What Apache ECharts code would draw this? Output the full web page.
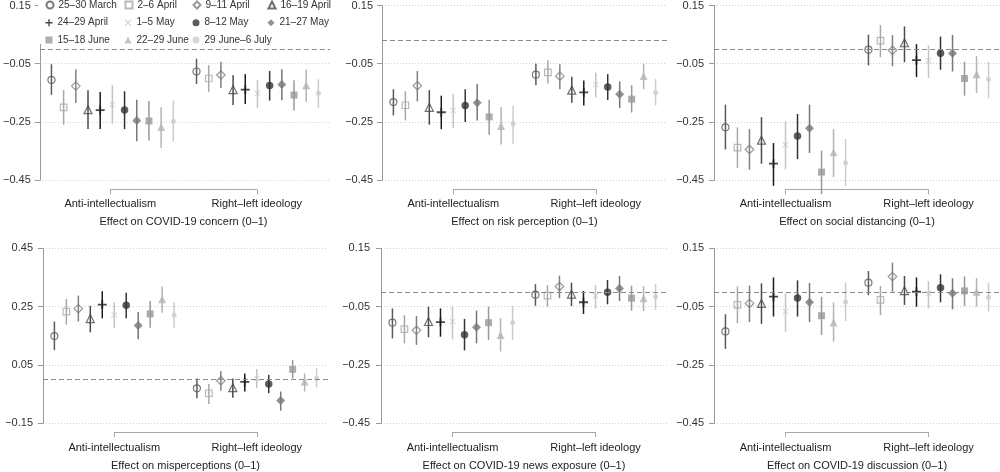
<!DOCTYPE html>
<html><head><meta charset="utf-8">
<script src="https://cdn.jsdelivr.net/npm/echarts@6/dist/echarts.min.js"></script>
<style>html,body{margin:0;padding:0;background:#fff}#c{width:1000px;height:472px}</style>
</head><body><div id="c"></div>
<script>
// ---------- DATA ----------
const waves = ['25–30 March','2–6 April','9–11 April','16–19 April','24–29 April','1–5 May','8–12 May','21–27 May','15–18 June','22–29 June','29 June–6 July'];
const categories = ['Anti-intellectualism','Right–left ideology'];
const panelTitles = ['Effect on COVID-19 concern (0–1)','Effect on risk perception (0–1)','Effect on social distancing (0–1)','Effect on misperceptions (0–1)','Effect on COVID-19 news exposure (0–1)','Effect on COVID-19 discussion (0–1)'];
const yMins = [-0.45,-0.45,-0.45,-0.15,-0.45,-0.45];
const yMaxs = [0.15,0.15,0.15,0.45,0.15,0.15];
const yStep = 0.2;
const refLines = [0,0.025,0,0,0,0];

// COVID-19 concern
const concernAntiEst = [-0.106,-0.200,-0.127,-0.208,-0.210,-0.191,-0.209,-0.245,-0.247,-0.268,-0.248];
const concernAntiLo  = [-0.157,-0.260,-0.185,-0.275,-0.275,-0.257,-0.275,-0.317,-0.314,-0.340,-0.317];
const concernAntiHi  = [-0.052,-0.141,-0.070,-0.141,-0.147,-0.124,-0.145,-0.174,-0.178,-0.200,-0.177];
const concernIdeoEst = [-0.077,-0.101,-0.089,-0.139,-0.139,-0.152,-0.125,-0.122,-0.158,-0.124,-0.152];
const concernIdeoLo  = [-0.120,-0.147,-0.134,-0.192,-0.189,-0.203,-0.177,-0.176,-0.211,-0.181,-0.203];
const concernIdeoHi  = [-0.033,-0.055,-0.043,-0.090,-0.086,-0.107,-0.075,-0.069,-0.107,-0.070,-0.104];
// Risk perception
const riskAntiEst = [-0.182,-0.193,-0.126,-0.200,-0.217,-0.211,-0.194,-0.184,-0.233,-0.264,-0.257];
const riskAntiLo  = [-0.228,-0.245,-0.180,-0.260,-0.275,-0.272,-0.251,-0.245,-0.294,-0.328,-0.325];
const riskAntiHi  = [-0.138,-0.145,-0.075,-0.141,-0.160,-0.155,-0.138,-0.120,-0.174,-0.200,-0.194];
const riskIdeoEst = [-0.088,-0.080,-0.093,-0.141,-0.149,-0.122,-0.130,-0.155,-0.172,-0.092,-0.149];
const riskIdeoLo  = [-0.124,-0.118,-0.138,-0.184,-0.194,-0.166,-0.175,-0.203,-0.218,-0.138,-0.194];
const riskIdeoHi  = [-0.050,-0.038,-0.052,-0.095,-0.108,-0.081,-0.086,-0.111,-0.124,-0.050,-0.103];
// Social distancing
const distAntiEst = [-0.269,-0.339,-0.345,-0.313,-0.394,-0.329,-0.299,-0.272,-0.423,-0.355,-0.391];
const distAntiLo  = [-0.345,-0.408,-0.415,-0.394,-0.470,-0.413,-0.378,-0.357,-0.499,-0.440,-0.471];
const distAntiHi  = [-0.191,-0.269,-0.275,-0.234,-0.323,-0.249,-0.223,-0.191,-0.349,-0.275,-0.309];
const distIdeoEst = [-0.002,0.029,-0.004,0.022,-0.038,-0.040,-0.014,-0.014,-0.101,-0.086,-0.104];
const distIdeoLo  = [-0.056,-0.028,-0.059,-0.045,-0.096,-0.099,-0.071,-0.077,-0.160,-0.151,-0.169];
const distIdeoHi  = [0.050,0.083,0.048,0.078,0.017,0.013,0.043,0.049,-0.043,-0.024,-0.043];
// Misperceptions
const misAntiEst = [0.149,0.233,0.243,0.209,0.257,0.221,0.255,0.185,0.225,0.275,0.221];
const misAntiLo  = [0.101,0.188,0.199,0.162,0.210,0.176,0.210,0.138,0.178,0.229,0.176];
const misAntiHi  = [0.199,0.276,0.288,0.253,0.303,0.265,0.298,0.232,0.269,0.319,0.265];
const misIdeoEst = [-0.030,-0.047,-0.004,-0.028,-0.008,0.004,-0.015,-0.072,0.035,-0.007,0.004];
const misIdeoLo  = [-0.064,-0.084,-0.038,-0.062,-0.041,-0.030,-0.047,-0.107,0.004,-0.041,-0.027];
const misIdeoHi  = [0.004,-0.015,0.029,0.004,0.021,0.036,0.016,-0.041,0.067,0.021,0.039];
// News exposure
const newsAntiEst = [-0.105,-0.127,-0.131,-0.101,-0.103,-0.101,-0.146,-0.121,-0.105,-0.147,-0.105];
const newsAntiLo  = [-0.159,-0.176,-0.181,-0.155,-0.153,-0.162,-0.200,-0.176,-0.164,-0.204,-0.164];
const newsAntiHi  = [-0.056,-0.079,-0.082,-0.050,-0.056,-0.050,-0.092,-0.064,-0.050,-0.090,-0.048];
const newsIdeoEst = [-0.009,-0.012,0.019,-0.007,-0.035,-0.013,-0.001,0.012,-0.021,-0.021,-0.016];
const newsIdeoLo  = [-0.047,-0.050,-0.021,-0.048,-0.075,-0.056,-0.042,-0.031,-0.064,-0.065,-0.061];
const newsIdeoHi  = [0.027,0.024,0.056,0.032,0.004,0.024,0.041,0.055,0.022,0.021,0.028];
// Discussion
const discAntiEst = [-0.135,-0.044,-0.039,-0.039,-0.016,-0.067,-0.020,-0.035,-0.081,-0.104,-0.034];
const discAntiLo  = [-0.195,-0.107,-0.103,-0.109,-0.084,-0.136,-0.084,-0.103,-0.147,-0.170,-0.099];
const discAntiHi  = [-0.076,0.019,0.022,0.030,0.050,-0.004,0.040,0.031,-0.016,-0.036,0.032];
const discIdeoEst = [0.032,-0.027,0.053,0.005,0.001,-0.004,0.015,-0.004,0.004,0.001,-0.018];
const discIdeoLo  = [-0.011,-0.079,0.001,-0.044,-0.050,-0.056,-0.035,-0.059,-0.047,-0.050,-0.067];
const discIdeoHi  = [0.072,0.021,0.101,0.055,0.050,0.037,0.061,0.047,0.054,0.048,0.032];

// ---------- ASSEMBLY ----------
const panelEst = [[concernAntiEst,concernIdeoEst],[riskAntiEst,riskIdeoEst],[distAntiEst,distIdeoEst],[misAntiEst,misIdeoEst],[newsAntiEst,newsIdeoEst],[discAntiEst,discIdeoEst]];
const panelLo  = [[concernAntiLo,concernIdeoLo],[riskAntiLo,riskIdeoLo],[distAntiLo,distIdeoLo],[misAntiLo,misIdeoLo],[newsAntiLo,newsIdeoLo],[discAntiLo,discIdeoLo]];
const panelHi  = [[concernAntiHi,concernIdeoHi],[riskAntiHi,riskIdeoHi],[distAntiHi,distIdeoHi],[misAntiHi,misIdeoHi],[newsAntiHi,newsIdeoHi],[discAntiHi,discIdeoHi]];

// layout
const boxes = [
  {left:37, top:4.7, width:293, height:175.3, lab:9, catM:9, nameGap:27},
  {left:382, top:4.7, width:285, height:175.3, lab:9, catM:9, nameGap:27},
  {left:714, top:4.7, width:286, height:175.3, lab:10, catM:9, nameGap:27},
  {left:43, top:248.3, width:285, height:175, lab:10, catM:10.5, nameGap:28.5},
  {left:381, top:248.3, width:286, height:175, lab:11, catM:10.5, nameGap:28.5},
  {left:714, top:248.3, width:286, height:175, lab:10, catM:10.5, nameGap:28.5}
];
const bracketDrop = 9.5;
const STEP = 0.084;

// styles
const PLUS = 'path://M4,0H6V4H10V6H6V10H4V6H0V4H4Z';
const CROSS = 'path://M1,0L5,4L9,0L10,1L6,5L10,9L9,10L5,6L1,10L0,9L4,5L0,1Z';
const waveStyle = [
  {sym:'circle', hollow:true, c:'#5a5a5a', s:7},
  {sym:'rect', hollow:true, c:'#a8a8a8', s:6.5},
  {sym:'diamond', hollow:true, c:'#808080', s:8.5},
  {sym:'triangle', hollow:true, c:'#4a4a4a', s:8},
  {sym:PLUS, hollow:false, c:'#1a1a1a', s:9},
  {sym:CROSS, hollow:false, c:'#c4c4c4', s:6},
  {sym:'circle', hollow:false, c:'#333333', s:7.5},
  {sym:'diamond', hollow:false, c:'#777777', s:9},
  {sym:'rect', hollow:false, c:'#999999', s:7},
  {sym:'triangle', hollow:false, c:'#b4b4b4', s:8},
  {sym:'circle', hollow:false, c:'#cccccc', s:5}
];
const FONT = '"Liberation Sans", Arial, Helvetica, sans-serif';
const fmt = v => (v < -1e-9 ? '\u2212' : '') + Math.abs(v).toFixed(2);

const grid = [], xAxis = [], yAxis = [], series = [];
boxes.forEach((b, p) => {
  grid.push({left:b.left, top:b.top, width:b.width, height:b.height, containLabel:false});
  grid.push({left:b.left + b.width/4, top:b.top + b.height + bracketDrop - 1, width:b.width/2, height:1, containLabel:false});
  xAxis.push({gridIndex:2*p, type:'value', min:0.5, max:2.5, show:false});
  xAxis.push({gridIndex:2*p+1, type:'category', data:categories, boundaryGap:false,
    axisLine:{show:true, lineStyle:{color:'#a8a8a8', width:1}},
    axisTick:{show:true, length:5, lineStyle:{color:'#a8a8a8'}, alignWithLabel:true},
    axisLabel:{show:true, interval:0, margin:b.catM, fontSize:11, color:'#222', fontFamily:FONT},
    splitLine:{show:false},
    name:panelTitles[p], nameLocation:'middle', nameGap:b.nameGap,
    nameTextStyle:{fontSize:11, color:'#222', fontFamily:FONT}});
  yAxis.push({gridIndex:2*p, type:'value', min:yMins[p], max:yMaxs[p], interval:yStep,
    axisLine:{show:true, lineStyle:{color:'#999', width:1}},
    axisTick:{show:true, length:5, lineStyle:{color:'#999'}},
    axisLabel:{margin:b.lab, fontSize:11, color:'#333', fontFamily:FONT, formatter:fmt},
    splitLine:{show:true, lineStyle:{color:'#cfcfcf', type:[1,2], width:1}}});
  yAxis.push({gridIndex:2*p+1, type:'value', show:false});
  // reference dashed line
  series.push({type:'line', xAxisIndex:2*p, yAxisIndex:2*p, data:[], z:1, silent:true,
    markLine:{silent:true, symbol:'none', animation:false, label:{show:false},
      lineStyle:{type:[5,3], color:'#8a8a8a', width:1.2},
      data:[{yAxis:refLines[p]}]}});
  waveStyle.forEach((st, w) => {
    const xs = [0,1].map(c => (c + 1) + (w - 5) * STEP);
    series.push({type:'custom', xAxisIndex:2*p, yAxisIndex:2*p, z:2, silent:true,
      data: xs.map((x, c) => [x, panelLo[p][c][w], panelHi[p][c][w]]),
      encode:{x:0, y:[1,2]},
      renderItem:(params, api) => {
        const a = api.coord([api.value(0), api.value(1)]);
        const bb = api.coord([api.value(0), api.value(2)]);
        return {type:'line', shape:{x1:a[0], y1:a[1], x2:bb[0], y2:bb[1]},
          style:{stroke:st.c, lineWidth:1.5}};
      }});
    series.push({type:'scatter', name:waves[w], xAxisIndex:2*p, yAxisIndex:2*p, z:3,
      symbol:st.sym, symbolSize:st.s,
      itemStyle: st.hollow ? {color:'rgba(255,255,255,0)', borderColor:st.c, borderWidth:1.2}
                           : {color:st.c},
      data: xs.map((x, c) => [x, panelEst[p][c][w]])});
  });
});

const legCols = [49, 128, 196, 271];
const legRows = [5, 22.7, 40];
const legend = waves.map((name, i) => ({
  data:[name], left: legCols[i % 4] - 3.5, top: legRows[Math.floor(i / 4)] - 7,
  itemWidth:7, itemHeight:7, padding:0, itemGap:0, selectedMode:false,
  textStyle:{fontSize:10, color:'#333', fontFamily:FONT, lineHeight:14}
}));

const chart = echarts.init(document.getElementById('c'), null, {renderer:'canvas'});
chart.setOption({
  animation:false,
  backgroundColor:'#fff',
  textStyle:{fontFamily:FONT},
  graphic:[{type:'rect', shape:{x:38, y:0, width:292, height:44}, style:{fill:'#fff'}, z:1, silent:true}],
  legend, grid, xAxis, yAxis, series
});
</script></body></html>
